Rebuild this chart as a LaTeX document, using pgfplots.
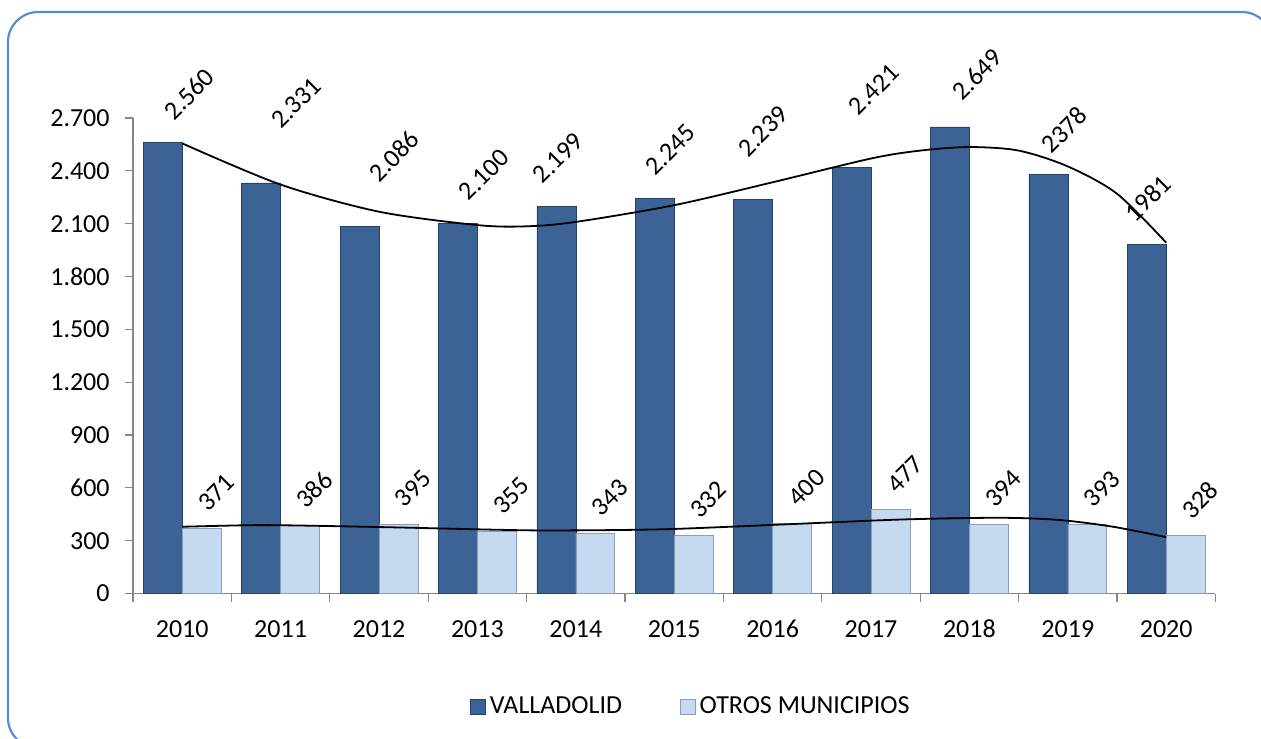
\documentclass[border=0pt]{standalone}
\usepackage{fontspec}
\setmainfont{Carlito}
\usepackage{pgfplots}
\pgfplotsset{compat=1.18}
\definecolor{frameblue}{RGB}{85,142,213}
\definecolor{axgray}{RGB}{134,134,134}
\definecolor{vallblue}{RGB}{59,99,150}
\definecolor{valledge}{RGB}{38,66,104}
\definecolor{otroblue}{RGB}{197,217,241}
\definecolor{otroedge}{RGB}{140,158,182}

\begin{document}
\begin{tikzpicture}[font=\fontsize{13}{15.6}\selectfont]
\useasboundingbox (0,0) rectangle (630.5pt,-369pt);
\begin{scope}
  \clip (0,0) rectangle (630.5pt,-369pt);
  \draw[frameblue, line width=1.1pt, rounded corners=15pt] (4pt,-6pt) rectangle (636pt,-374pt);
\end{scope}
\begin{axis}[
  at={(66.5pt,-296.75pt)}, anchor=south west,
  scale only axis,
  width=541.2pt, height=237.75pt,
  xmin=-0.5, xmax=10.5,
  ymin=0, ymax=2700,
  clip=false,
  axis x line=bottom, axis y line=left,
  axis line style={-, draw=axgray, line width=0.6pt},
  tick align=outside,
  major tick length=4pt,
  tick style={draw=axgray, line width=0.6pt},
  xtick={-0.5,0.5,...,10.5},
  x tick label as interval,
  xticklabels={2010,2011,2012,2013,2014,2015,2016,2017,2018,2019,2020},
  ytick={0,300,...,2700},
  /pgf/number format/1000 sep={.},
  /pgf/number format/assume math mode=true,
  yticklabel style={anchor=east, inner sep=0pt, xshift=-7.5pt},
  xticklabel style={anchor=north, inner sep=0pt, text height=8.6pt, text depth=0pt, yshift=-9pt},
  legend columns=2,
  legend style={at={(0.3113,-0.2387)}, anchor=west, draw=none, fill=none,
    inner sep=0pt, font=\fontsize{13}{15.6}\selectfont,
    /tikz/every even column/.append style={column sep=27pt}},
]
\addplot[ybar, bar width=0.396, bar shift=-0.198, fill=vallblue, draw=valledge, line width=0.3pt,
  legend image code/.code={\draw[fill=vallblue, draw=valledge] (0pt,-3.75pt) rectangle (7.5pt,3.75pt);}]
  coordinates {(0,2560) (1,2331) (2,2086) (3,2100) (4,2199) (5,2245) (6,2239) (7,2421) (8,2649) (9,2378) (10,1981)};
\addlegendentry{VALLADOLID}
\addplot[ybar, bar width=0.396, bar shift=0.198, fill=otroblue, draw=otroedge, line width=0.3pt,
  nodes near coords,
  nodes near coords style={yshift=7.5pt, xshift=13pt, rotate=45, anchor=south west, inner sep=0pt, text=black},
  legend image code/.code={\draw[fill=otroblue, draw=otroedge] (0pt,-3.75pt) rectangle (7.5pt,3.75pt);}]
  coordinates {(0,371) (1,386) (2,395) (3,355) (4,343) (5,332) (6,400) (7,477) (8,394) (9,393) (10,328)};
\addlegendentry{OTROS MUNICIPIOS}
% polynomial trend lines
\addplot[black, line width=0.9pt, smooth, forget plot] coordinates {
  (0,2556) (1,2322) (2,2168) (3,2092) (3.5,2085) (4,2110) (5,2205) (6,2335)
  (7,2470) (7.5,2515) (8,2535) (8.5,2515) (9,2425) (9.5,2270) (10,1992)};
\addplot[black, line width=0.9pt, smooth, forget plot] coordinates {
  (0,379) (0.7,388) (1.2,386) (2.2,375) (3.2,362) (3.8,358) (4.9,365) (6.1,392)
  (7.3,420) (8.3,430) (8.9,418) (9.45,380) (10,320)};
% data labels of VALLADOLID (placed by hand in the original)
\tikzset{vlab/.style={xshift=5pt, yshift=-1pt, rotate=45, anchor=south west, inner sep=0pt}}
\node[vlab] at (axis cs:-0.181,2689) {2.560};
\node[vlab] at (axis cs:0.904,2641) {2.331};
\node[vlab] at (axis cs:1.901,2338) {2.086};
\node[vlab] at (axis cs:2.812,2234) {2.100};
\node[vlab] at (axis cs:3.564,2329) {2.199};
\node[vlab] at (axis cs:4.707,2376) {2.245};
\node[vlab] at (axis cs:5.650,2480) {2.239};
\node[vlab] at (axis cs:6.775,2717) {2.421};
\node[vlab] at (axis cs:7.828,2802) {2.649};
\node[vlab] at (axis cs:8.736,2499) {2378};
\node[vlab] at (axis cs:9.588,2111) {1981};
\end{axis}
\end{tikzpicture}
\end{document}
